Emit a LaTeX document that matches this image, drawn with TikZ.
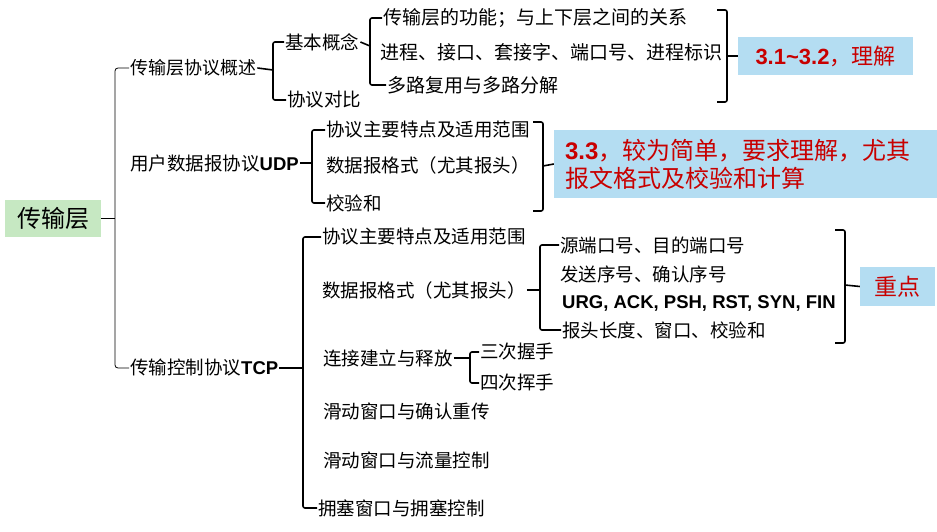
\documentclass[tikz,border=0pt]{standalone}
\usepackage{fontspec}
\setmainfont{Noto Sans CJK SC}
\newfontfamily\arialfont{Liberation Sans}
\usepackage{xcolor}
\usepackage{tikz}
\usetikzlibrary{positioning,calc}
\definecolor{rootgreen}{RGB}{198,232,194}
\definecolor{hintblue}{RGB}{180,221,242}
\definecolor{hintred}{RGB}{200,0,0}
\newcommand{\lat}[1]{{\arialfont\bfseries #1}}

\begin{document}
\begin{tikzpicture}[x=1pt, y=-1pt,
    every node/.style={inner sep=1pt, font=\fontsize{18.5}{22}\selectfont},
    item/.style={anchor=west},
    root/.style={fill=rootgreen, minimum width=96pt, minimum height=37pt,
      font=\fontsize{24}{28}\selectfont},
    hint/.style={fill=hintblue, text=hintred,
      font=\fontsize{22}{28}\selectfont},
    brk/.style={line width=1.6pt, rounded corners=2pt},
    thin/.style={line width=0.8pt, rounded corners=3pt}]
  \useasboundingbox (0,0) rectangle (937,532);

  \node[root] (csc) at (53,218) {传输层};

  \node[item, font=\fontsize{18}{22}\selectfont] (gs) at (129,68) {传输层协议概述};
  \node[item] (udp) at (129,163) {用户数据报协议\lat{UDP}};
  \node[item] (tcp) at (129,368) {传输控制协议\lat{TCP}};

  \node[item] (jbgn) at (284,42)  {基本概念};
  \node[item] (xydb) at (286,100) {协议对比};
  \begin{scope}[every node/.append style={font=\fontsize{19}{22}\selectfont}]
    \node[item] (gn1) at (382,18) {传输层的功能；与上下层之间的关系};
    \node[item] (gn2) at (379,52) {进程、接口、套接字、端口号、进程标识};
    \node[item] (gn3) at (386,85) {多路复用与多路分解};
  \end{scope}
  \node[hint, minimum width=175pt, minimum height=38pt] (lj) at (825.5,56)
    {\lat{3.1\textasciitilde 3.2}，理解};

  \node[item] (u1) at (325,130) {协议主要特点及适用范围};
  \node[item] (u2) at (325,165) {数据报格式（尤其报头）};
  \node[item] (u3) at (325,203) {校验和};
  \node[hint, align=left, text width=361pt, inner xsep=11pt,
    minimum height=68pt, font=\fontsize{24}{28}\selectfont] (jd) at (745.5,164)
    {\lat{3.3}，较为简单，要求理解，尤其\\报文格式及校验和计算};

  \node[item] (t1) at (321,237) {协议主要特点及适用范围};
  \node[item] (t2) at (321,290) {数据报格式（尤其报头）};
  \node[item] (t3) at (322,358) {连接建立与释放};
  \node[item] (t4) at (322,411) {滑动窗口与确认重传};
  \node[item] (t5) at (322,460) {滑动窗口与流量控制};
  \node[item] (t6) at (317,508) {拥塞窗口与拥塞控制};

  \node[item] (h1) at (559,245) {源端口号、目的端口号};
  \node[item] (h2) at (559,274) {发送序号、确认序号};
  \node[item] (h3) at (561,303) {\lat{URG, ACK, PSH, RST, SYN, FIN}};
  \node[item] (h4) at (561,330) {报头长度、窗口、校验和};
  \node[hint, minimum width=75pt, minimum height=39pt,
    font=\fontsize{23}{28}\selectfont] (zd) at (897.5,286.5) {重点};

  \node[item] (w1) at (479,352) {三次握手};
  \node[item] (w2) at (479,383) {四次挥手};

  \coordinate (b0) at (115,218);
  \coordinate (b1) at (273,70);
  \coordinate (b2) at (370,46);
  \coordinate (b3) at (312,163);
  \coordinate (b4) at (303,368);
  \coordinate (b5) at (540,290);
  \coordinate (b6) at (470,358);
  \coordinate (c1) at (727,56);
  \coordinate (c2) at (543,166);
  \coordinate (c3) at (845,285);

  \draw[thin] (csc.east) -- (b0);
  \draw[thin] (gs.west) -| (b0) |- (tcp.west);
  \draw[brk] (gs.east) -- (b1);
  \draw[brk] (jbgn.west) -| (b1) |- (xydb.west);
  \draw[brk] (jbgn.east) -- (b2);
  \draw[brk] (gn1.west) -| (b2) |- (gn3.west);
  \draw[brk] (udp.east) -- (b3);
  \draw[brk] (u1.west) -| (b3) |- (u3.west);
  \draw[brk] (tcp.east) -- (b4);
  \draw[brk] (t1.west) -| (b4) |- (t6.west);
  \draw[brk] (t2.east) -- (b5);
  \draw[brk] (h1.west) -| (b5) |- (h4.west);
  \draw[brk] (t3.east) -- (b6);
  \draw[brk] (w1.west) -| (b6) |- (w2.west);

  \draw[brk] ($(c1)+(-10,-46)$) -| ($(c1)+(0,46)$) -- ++(-10,0);
  \draw[brk] (c1) -- (lj.west);
  \draw[brk] ($(c2)+(-10,-44)$) -| ($(c2)+(0,45)$) -- ++(-10,0);
  \draw[brk] (c2) -- (jd.west);
  \draw[brk] ($(c3)+(-10,-55)$) -| ($(c3)+(0,58)$) -- ++(-10,0);
  \draw[brk] (c3) -- (zd.west);
\end{tikzpicture}
\end{document}
